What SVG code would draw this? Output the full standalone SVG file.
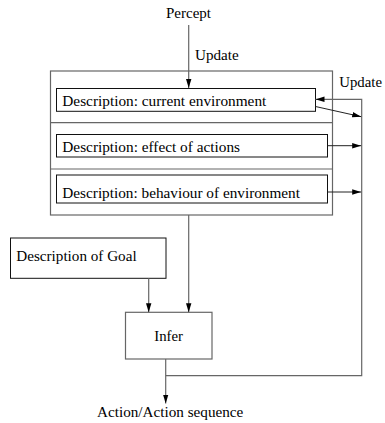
<svg xmlns="http://www.w3.org/2000/svg" width="385" height="423" viewBox="0 0 385 423">
<style>
text{font-family:'Liberation Serif','Times New Roman',serif;font-size:14.5px;fill:#000}
.box{fill:#fff;stroke:#111;stroke-width:1}
.gbox{fill:#fff;stroke:#666;stroke-width:1.2}
.ln{fill:none;stroke:#666;stroke-width:1.2}
.ar{fill:none;stroke:#222;stroke-width:1}
</style>
<defs>
<marker id="ah" viewBox="0 0 10 6" refX="10" refY="3" markerWidth="9" markerHeight="6" markerUnits="userSpaceOnUse" orient="auto">
<path d="M0,0 L10,3 L0,6 Z" fill="#000"/>
</marker>
</defs>
<g id="kb">
<rect class="gbox" x="50.5" y="71" width="282" height="144"/>
<line class="ln" x1="50.5" y1="122.7" x2="332.5" y2="122.7"/>
<line class="ln" x1="50.5" y1="169" x2="332.5" y2="169"/>
</g>
<g id="current">
<rect class="box" x="56.5" y="88.5" width="259" height="22.8"/>
<text x="62.3" y="105.7" textLength="204" lengthAdjust="spacingAndGlyphs">Description: current environment</text>
</g>
<g id="effect">
<rect class="box" x="56.5" y="134.5" width="271" height="22.5"/>
<text x="62.3" y="151.7" textLength="177.7" lengthAdjust="spacingAndGlyphs">Description: effect of actions</text>
</g>
<g id="behaviour">
<rect class="box" x="56.5" y="175" width="271" height="28"/>
<text x="62.3" y="197.7" textLength="237.7" lengthAdjust="spacingAndGlyphs">Description: behaviour of environment</text>
</g>
<g id="goal">
<rect class="box" x="10.5" y="238" width="155.5" height="40.3"/>
<text x="16.3" y="260.7" textLength="120.3" lengthAdjust="spacingAndGlyphs">Description of Goal</text>
</g>
<g id="infer">
<rect class="gbox" x="125.5" y="312.3" width="86.5" height="46.7"/>
<text x="154.3" y="341" textLength="28.7" lengthAdjust="spacingAndGlyphs">Infer</text>
</g>
<g id="labels">
<text x="166" y="18.3" textLength="45" lengthAdjust="spacingAndGlyphs">Percept</text>
<text x="195" y="60" textLength="43.7" lengthAdjust="spacingAndGlyphs">Update</text>
<text x="339.3" y="87.3" textLength="42.7" lengthAdjust="spacingAndGlyphs">Update</text>
<text x="97" y="416.7" textLength="146.3" lengthAdjust="spacingAndGlyphs">Action/Action sequence</text>
</g>
<g id="connectors">
<line class="ln" x1="188.7" y1="25" x2="188.7" y2="88" marker-end="url(#ah)"/>
<polyline class="ln" points="165.7,375.7 361.7,375.7 361.7,99.3 315.5,99.3" marker-end="url(#ah)"/>
<line class="ar" x1="315.5" y1="106.5" x2="361.2" y2="116.7" marker-end="url(#ah)"/>
<line class="ar" x1="327.5" y1="145.7" x2="361.2" y2="145.7" marker-end="url(#ah)"/>
<line class="ar" x1="327.5" y1="192" x2="361.2" y2="192" marker-end="url(#ah)"/>
<line class="ln" x1="148.7" y1="278.3" x2="148.7" y2="312.3" marker-end="url(#ah)"/>
<line class="ln" x1="188.7" y1="215" x2="188.7" y2="312.3" marker-end="url(#ah)"/>
<line class="ln" x1="165.7" y1="359" x2="165.7" y2="403.5" marker-end="url(#ah)"/>
</g>
</svg>
